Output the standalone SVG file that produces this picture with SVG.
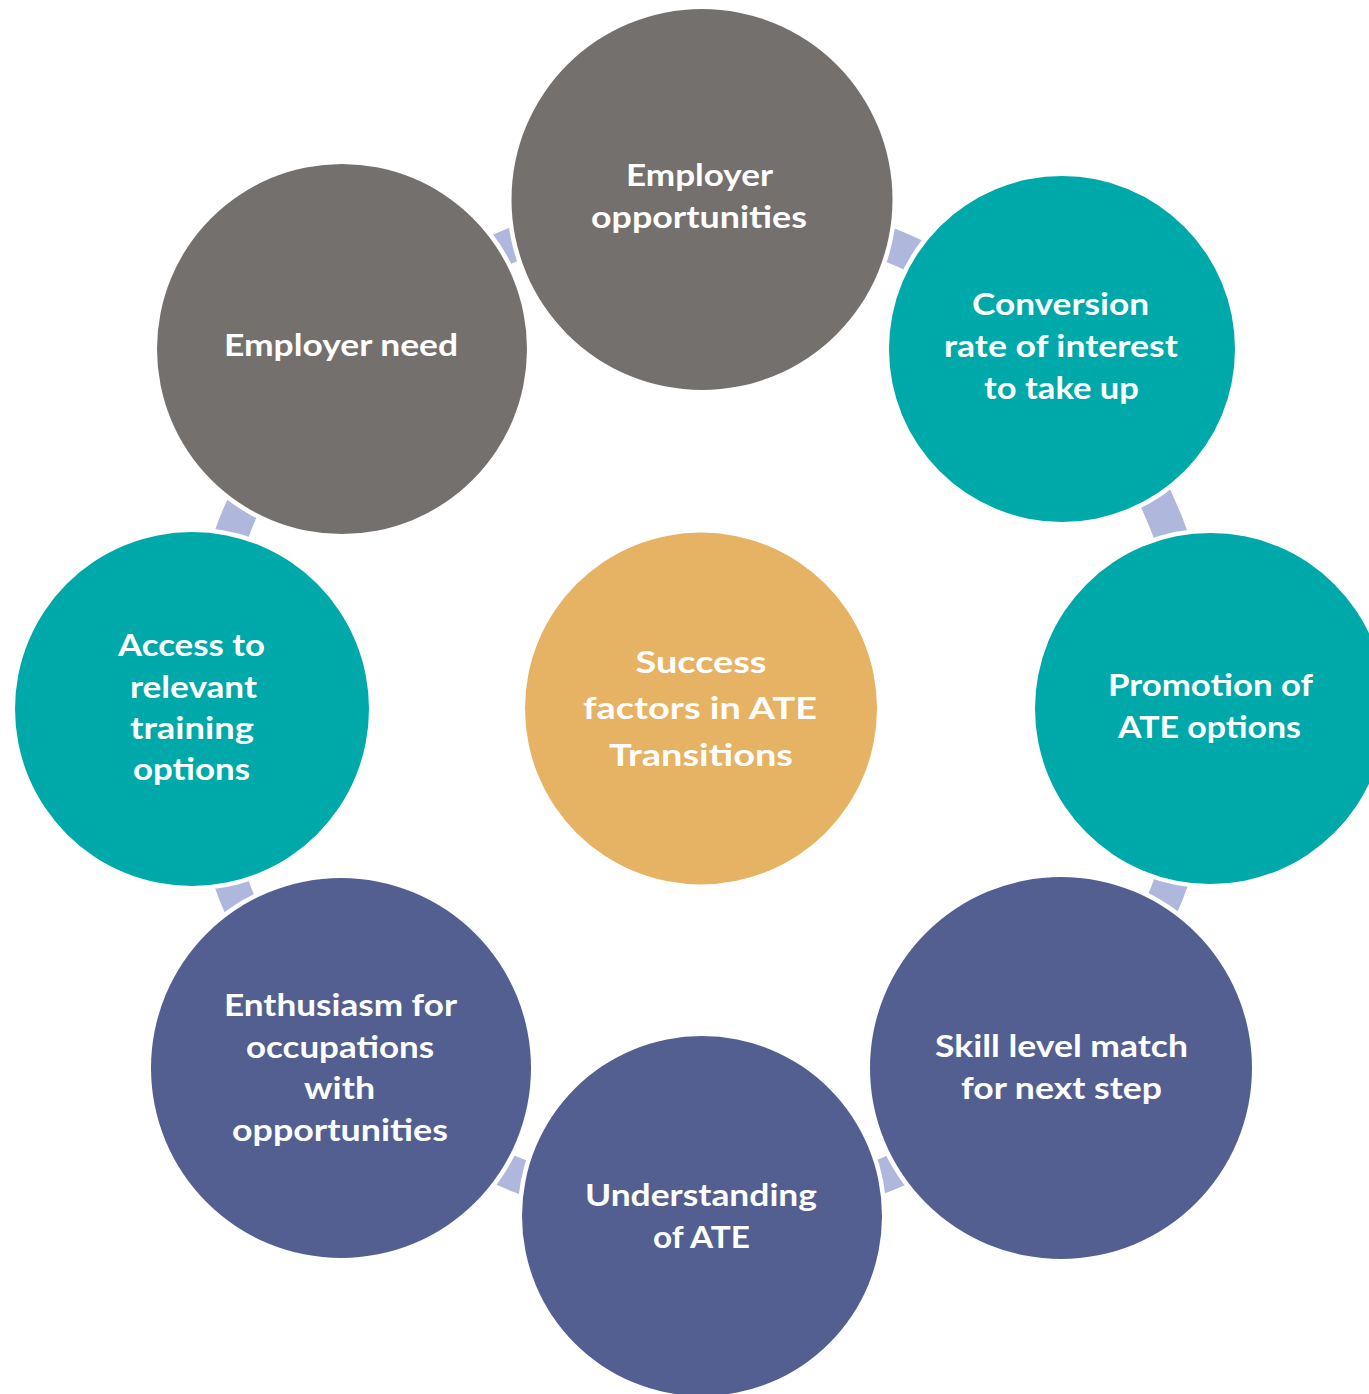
<svg xmlns="http://www.w3.org/2000/svg" width="1369" height="1394" viewBox="0 0 1369 1394">
<style>
.n{stroke:#FFFFFF;stroke-width:9;paint-order:stroke}
.g{fill:#74706E}
.t{fill:#00A9A9}
.b{fill:#535F91}
.c{fill:#E6B263}
text{font-family:Lato,"Liberation Sans",sans-serif;font-weight:700;font-size:31px;fill:#FFFFFF;text-anchor:middle}
</style>
<rect x="0" y="0" width="1369" height="1394" fill="#FFFFFF"/>
<g id="connectors">
<circle cx="701" cy="709" r="501" fill="none" stroke="#AFB8DC" stroke-width="34"/>
</g>
<g id="center">
<circle class="n c" cx="701" cy="708.5" r="176"/>
<text x="701" y="673" textLength="131" lengthAdjust="spacingAndGlyphs">Success</text>
<text x="700" y="719" textLength="234" lengthAdjust="spacingAndGlyphs">factors in ATE</text>
<text x="701" y="766" textLength="184" lengthAdjust="spacingAndGlyphs">Transitions</text>
</g>
<g id="employer-opportunities">
<circle class="n g" cx="702" cy="199.5" r="190.5"/>
<text x="699.5" y="186" textLength="147" lengthAdjust="spacingAndGlyphs">Employer</text>
<text x="699" y="228" textLength="216" lengthAdjust="spacingAndGlyphs">opportunities</text>
</g>
<g id="conversion">
<circle class="n t" cx="1062" cy="349" r="173"/>
<text x="1060.5" y="315" textLength="177" lengthAdjust="spacingAndGlyphs">Conversion</text>
<text x="1061" y="357" textLength="234" lengthAdjust="spacingAndGlyphs">rate of interest</text>
<text x="1061.5" y="399" textLength="155" lengthAdjust="spacingAndGlyphs">to take up</text>
</g>
<g id="promotion">
<circle class="n t" cx="1210.5" cy="708.5" r="175.5"/>
<text x="1210.5" y="696" textLength="205" lengthAdjust="spacingAndGlyphs">Promotion of</text>
<text x="1209.5" y="738" textLength="183" lengthAdjust="spacingAndGlyphs">ATE options</text>
</g>
<g id="skill">
<circle class="n b" cx="1061" cy="1068" r="191"/>
<text x="1061.5" y="1057" textLength="253" lengthAdjust="spacingAndGlyphs">Skill level match</text>
<text x="1061.5" y="1099" textLength="201" lengthAdjust="spacingAndGlyphs">for next step</text>
</g>
<g id="understanding">
<circle class="n b" cx="702" cy="1216" r="180"/>
<text x="701" y="1206" textLength="232" lengthAdjust="spacingAndGlyphs">Understanding</text>
<text x="701.5" y="1248" textLength="97" lengthAdjust="spacingAndGlyphs">of ATE</text>
</g>
<g id="enthusiasm">
<circle class="n b" cx="341" cy="1068" r="190"/>
<text x="340.5" y="1016" textLength="233" lengthAdjust="spacingAndGlyphs">Enthusiasm for</text>
<text x="340" y="1058" textLength="188" lengthAdjust="spacingAndGlyphs">occupations</text>
<text x="339.5" y="1099" textLength="71" lengthAdjust="spacingAndGlyphs">with</text>
<text x="340" y="1141" textLength="216" lengthAdjust="spacingAndGlyphs">opportunities</text>
</g>
<g id="access">
<circle class="n t" cx="192" cy="709" r="177"/>
<text x="191.5" y="656" textLength="147" lengthAdjust="spacingAndGlyphs">Access to</text>
<text x="193.5" y="698" textLength="127" lengthAdjust="spacingAndGlyphs">relevant</text>
<text x="192" y="739" textLength="124" lengthAdjust="spacingAndGlyphs">training</text>
<text x="191.5" y="780" textLength="117" lengthAdjust="spacingAndGlyphs">options</text>
</g>
<g id="employer-need">
<circle class="n g" cx="342" cy="349" r="185"/>
<text x="341" y="356" textLength="234" lengthAdjust="spacingAndGlyphs">Employer need</text>
</g>
</svg>
